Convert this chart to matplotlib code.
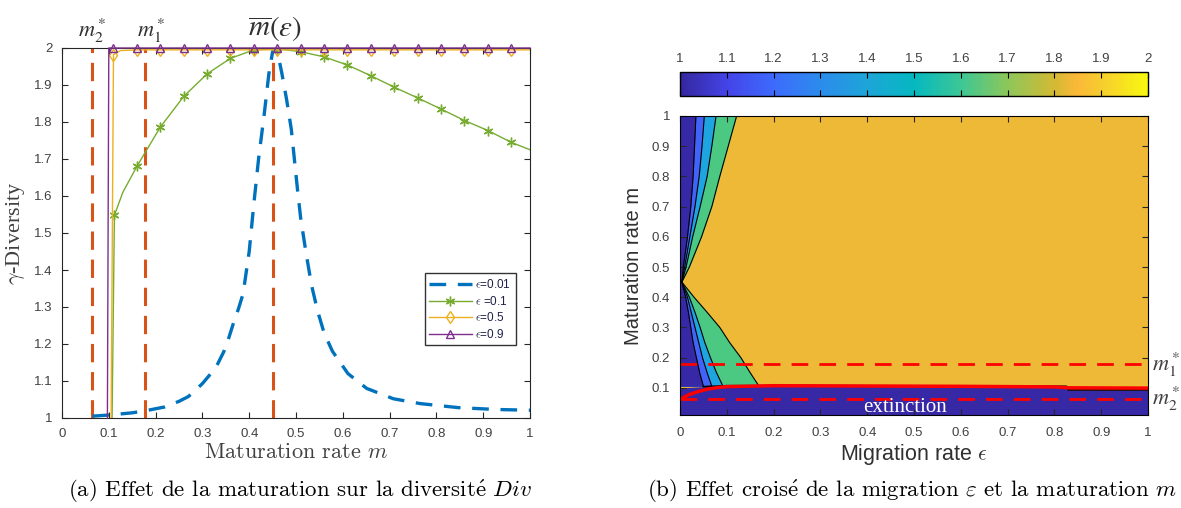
import matplotlib
matplotlib.use("Agg")
import matplotlib.pyplot as plt
from matplotlib.lines import Line2D
from matplotlib.colors import LinearSegmentedColormap, Normalize
from matplotlib.cm import ScalarMappable

### left panel: gamma-diversity vs maturation rate m
# eps = 0.01 (dashed)
m_e001 = [0.065, 0.1, 0.15, 0.18, 0.22, 0.25, 0.27, 0.285, 0.3, 0.318, 0.333, 0.346, 0.356,
          0.366, 0.377, 0.387, 0.4, 0.41, 0.42, 0.432, 0.442, 0.45, 0.455, 0.462, 0.47, 0.48,
          0.49, 0.503, 0.51, 0.521, 0.533, 0.546, 0.56, 0.578, 0.611, 0.651, 0.708, 0.765,
          0.847, 0.928, 1.0]
div_e001 = [1.005, 1.008, 1.014, 1.02, 1.03, 1.045, 1.058, 1.075, 1.093, 1.12, 1.147, 1.18, 1.215,
            1.255, 1.295, 1.336, 1.45, 1.58, 1.7, 1.82, 1.93, 1.99, 2.0, 1.98, 1.93, 1.86,
            1.78, 1.62, 1.54, 1.45, 1.36, 1.29, 1.23, 1.18, 1.12, 1.08, 1.052, 1.039,
            1.028, 1.023, 1.021]

# eps = 0.1
m_e01 = [0.107, 0.112, 0.13, 0.16, 0.21, 0.26, 0.31, 0.36, 0.41, 0.46, 0.51, 0.56, 0.61, 0.66,
         0.71, 0.76, 0.81, 0.86, 0.91, 0.96, 1.0]
div_e01 = [1.0, 1.548, 1.61, 1.68, 1.786, 1.869, 1.93, 1.972, 1.995, 1.998, 1.99, 1.976, 1.954,
           1.925, 1.894, 1.865, 1.835, 1.804, 1.777, 1.745, 1.725]
mk_e01 = [1] + list(range(3, 20))

# eps = 0.5
m_e05 = [0.105, 0.11, 0.125, 0.16, 0.21, 0.26, 0.31, 0.36, 0.41, 0.46, 0.51, 0.56, 0.61, 0.66,
         0.71, 0.76, 0.81, 0.86, 0.91, 0.96, 1.0]
div_e05 = [1.0, 1.982, 1.993, 1.995, 1.995, 1.995, 1.995, 1.995, 1.995, 1.995, 1.995, 1.995,
           1.995, 1.995, 1.995, 1.995, 1.995, 1.995, 1.995, 1.995, 1.995]
mk_e05 = [1] + list(range(3, 20))

# eps = 0.9
m_e09 = [0.097, 0.1, 0.11, 0.16, 0.21, 0.26, 0.31, 0.36, 0.41, 0.46, 0.51, 0.56, 0.61, 0.66,
         0.71, 0.76, 0.81, 0.86, 0.91, 0.96, 1.0]
div_e09 = [1.0, 2.0, 2.0, 2.0, 2.0, 2.0, 2.0, 2.0, 2.0, 2.0, 2.0, 2.0, 2.0, 2.0, 2.0, 2.0,
           2.0, 2.0, 2.0, 2.0, 2.0]
mk_e09 = list(range(2, 20))

# thresholds
m2_star = 0.0635
m1_star = 0.1775
m_bar = 0.45

### right panel: region boundaries (eps as function of m)
m_b = [0.105, 0.15, 0.2, 0.25, 0.3, 0.35, 0.4, 0.45, 0.5, 0.6, 0.7, 0.8, 0.9, 1.0]
eps_b1 = [0.050, 0.042, 0.035, 0.028, 0.023, 0.018, 0.012, 0.004, 0.007, 0.016, 0.023, 0.028, 0.031, 0.034]
eps_b2 = [0.068, 0.058, 0.048, 0.040, 0.032, 0.024, 0.016, 0.004, 0.010, 0.021, 0.032, 0.041, 0.047, 0.052]
eps_b3 = [0.092, 0.078, 0.065, 0.053, 0.043, 0.032, 0.020, 0.004, 0.013, 0.027, 0.043, 0.058, 0.068, 0.077]
eps_b4 = [0.169, 0.150, 0.130, 0.106, 0.085, 0.058, 0.030, 0.004, 0.020, 0.046, 0.068, 0.085, 0.103, 0.121]

# extinction boundary (top of bottom band)
eps_ext = [0.0, 0.05, 0.1, 0.3, 0.6, 0.826, 0.83, 1.0]
m_ext = [0.1, 0.104, 0.107, 0.107, 0.106, 0.105, 0.093, 0.093]

# red survival curve
eps_red = [0.0, 0.01, 0.02, 0.04, 0.06, 0.08, 0.1, 0.2, 0.4, 0.6, 0.8, 0.83, 1.0]
m_red = [0.062, 0.07, 0.078, 0.088, 0.096, 0.101, 0.104, 0.107, 0.106, 0.105, 0.103, 0.1, 0.099]

region_colors = ["#3728A5", "#4164F8", "#1EA5E0", "#4BC882", "#EEB937"]
cbar_colors = ["#35279F", "#4444E8", "#3D6BFD", "#2C8CEC", "#1DA5D8", "#05B8C0",
               "#3CC795", "#8CC75A", "#D2B934", "#FBB838", "#F6CC2F", "#F8F80F"]
cbar_pos = [0.0, 0.1, 0.2, 0.3, 0.4, 0.5, 0.6, 0.7, 0.8, 0.85, 0.9, 1.0]

plt.rcParams["mathtext.fontset"] = "cm"
plt.rcParams["font.family"] = "Liberation Sans"
tick_col = "#404040"
ticks01 = ["0", "0.1", "0.2", "0.3", "0.4", "0.5", "0.6", "0.7", "0.8", "0.9", "1"]

fig = plt.figure(figsize=(11.81, 5.08), dpi=100)

# ---------------- left panel ----------------
ax = fig.add_axes([62 / 1181, 1 - 418 / 508, 468 / 1181, 370 / 508])
for x in [m2_star, m1_star, m_bar]:
    ax.plot([x, x], [1, 2], color="#D95319", lw=2.2, ls=(0, (6, 3.2)))
ax.plot(m_e001, div_e001, color="#0072BD", lw=2.4, ls=(0, (5, 3.5)))
ax.plot(m_e01, div_e01, color="#77AC30", lw=1, marker=(6, 2, 0), ms=7, markevery=mk_e01)
ax.plot(m_e05, div_e05, color="#EDB120", lw=1, marker="d", ms=6, mfc="none", markevery=mk_e05)
ax.plot(m_e09, div_e09, color="#7E2F8E", lw=1, marker="^", ms=6, mfc="none", markevery=mk_e09,
        clip_on=False, zorder=5)
ax.set_xlim(0, 1)
ax.set_ylim(1, 2)
ax.set_xticks([i / 10 for i in range(11)])
ax.set_xticklabels(ticks01)
ax.set_yticks([1 + i / 10 for i in range(11)])
ax.set_yticklabels(["1", "1.1", "1.2", "1.3", "1.4", "1.5", "1.6", "1.7", "1.8", "1.9", "2"])
ax.tick_params(direction="in", top=True, right=True, labelsize=9.5, colors="#262626",
               labelcolor=tick_col, length=4, pad=7)
for s in ax.spines.values():
    s.set_color("#262626")
ax.set_xlabel("Maturation rate $m$", family="cmr10", fontsize=16, color="#404040", labelpad=2)
ax.set_ylabel(r"$\gamma$-Diversity", family="Liberation Serif", fontsize=16, color="#404040",
              labelpad=5)

tops = [(0.065, r"$m_2^*$"), (0.19, r"$m_1^*$")]
for x, t in tops:
    ax.text(x, 2.008, t, ha="center", va="bottom", fontsize=16, color="#303030",
            math_fontfamily="stix")
ax.text(0.455, 2.01, r"$\overline{m}(\varepsilon)$", ha="center", va="bottom",
        fontsize=21, color="#303030", math_fontfamily="stix")

handles = [
    Line2D([], [], color="#0072BD", lw=2.4, ls=(0, (5, 3.5))),
    Line2D([], [], color="#77AC30", lw=1, marker=(6, 2, 0), ms=7),
    Line2D([], [], color="#EDB120", lw=1, marker="d", ms=6, mfc="none"),
    Line2D([], [], color="#7E2F8E", lw=1, marker="^", ms=6, mfc="none"),
]
labels = [r"$\epsilon$=0.01", r"$\epsilon$ =0.1", r"$\epsilon$=0.5", r"$\epsilon$=0.9"]
leg = ax.legend(handles, labels, loc="lower left", bbox_to_anchor=(0.762, 0.18),
                fontsize=8.5, fancybox=False, edgecolor="#333333", framealpha=1,
                handlelength=3.6, borderpad=0.4, labelspacing=0.3, handletextpad=0.3)
for t in leg.get_texts():
    t.set_color("#20204A")

# ---------------- right panel ----------------
ax2 = fig.add_axes([680 / 1181, 1 - 415 / 508, 468 / 1181, 299 / 508])
ax2.set_facecolor(region_colors[0])
ax2.fill_between(eps_ext, m_ext, 1, color=region_colors[4], lw=0)
ax2.fill_betweenx(m_b, 0, eps_b4, color=region_colors[3], lw=0)
ax2.fill_betweenx(m_b, 0, eps_b3, color=region_colors[2], lw=0)
ax2.fill_betweenx(m_b, 0, eps_b2, color=region_colors[1], lw=0)
ax2.fill_betweenx(m_b, 0, eps_b1, color=region_colors[0], lw=0)
for b in [eps_b1, eps_b2, eps_b3, eps_b4]:
    ax2.plot(b, m_b, color="black", lw=0.8)
ax2.plot(eps_ext[1:], m_ext[1:], color="black", lw=1.2)
ax2.plot(eps_red, m_red, color="#FF0000", lw=2.5)
for y in [m1_star, m2_star]:
    ax2.axhline(y, color="#FF0000", lw=2, ls=(0, (6, 4)))
ax2.text(0.48, 0.035, "extinction", ha="center", va="center", color="white",
         family="Liberation Serif", fontsize=15)
ax2.text(1.008, m1_star, r"$m_1^*$", ha="left", va="center", fontsize=16, color="#404040",
         math_fontfamily="stix", clip_on=False)
ax2.text(1.008, m2_star, r"$m_2^*$", ha="left", va="center", fontsize=16, color="#404040",
         math_fontfamily="stix", clip_on=False)
ax2.set_xlim(0, 1)
ax2.set_ylim(0.01, 1)
ax2.set_xticks([i / 10 for i in range(11)])
ax2.set_xticklabels(ticks01)
ax2.set_yticks([i / 10 for i in range(1, 11)])
ax2.set_yticklabels(ticks01[1:])
ax2.tick_params(direction="in", top=True, right=True, labelsize=9.5, colors="#262626",
                labelcolor=tick_col, length=4, pad=7)
ax2.tick_params(axis="x", pad=9)
ax2.set_xlabel(r"Migration rate $\epsilon$", fontsize=15.5, color="#303030", labelpad=2)
ax2.set_ylabel("Maturation rate m", fontsize=14.5, color="#303030", labelpad=6)

# colorbar
cmap = LinearSegmentedColormap.from_list("parula_like", list(zip(cbar_pos, cbar_colors)))
cax = fig.add_axes([680 / 1181, 1 - 96 / 508, 468 / 1181, 24 / 508])
cb = fig.colorbar(ScalarMappable(norm=Normalize(1, 2), cmap=cmap), cax=cax,
                  orientation="horizontal")
cb.set_ticks([1 + i / 10 for i in range(11)])
cb.set_ticklabels(["1", "1.1", "1.2", "1.3", "1.4", "1.5", "1.6", "1.7", "1.8", "1.9", "2"])
cax.xaxis.set_ticks_position("both")
cax.tick_params(direction="in", labeltop=True, labelbottom=False, labelsize=9.5,
                labelcolor=tick_col, length=4, pad=5)
cb.outline.set_linewidth(1)

# captions
fig.text(300 / 1181, 1 - 491 / 508,
         r"(a) Effet de la maturation sur la diversit$\acute{\mathrm{e}}$ $Div$",
         ha="center", va="center", fontsize=16.5, family="cmr10")
fig.text(912 / 1181, 1 - 491 / 508,
         r"(b) Effet crois$\acute{\mathrm{e}}$ de la migration $\varepsilon$ et la maturation $m$",
         ha="center", va="center", fontsize=16.5, family="cmr10")

fig.savefig("out.png", dpi=100)
